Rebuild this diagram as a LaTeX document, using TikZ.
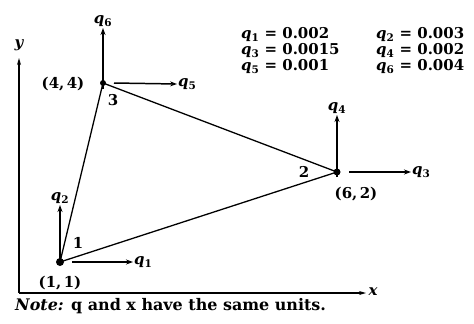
\documentclass[tikz,border=0pt]{standalone}
\usepackage{fontspec}
\setmainfont{DejaVu Serif}
\usepackage{tikz}
\usetikzlibrary{arrows.meta}

\newcommand{\dofq}[1]{\textit{q}\textsubscript{#1}}

\tikzset{
  dof/.style={-{Stealth[length=7pt,width=5pt]}, line width=1.5pt},
  axis/.style={-{Stealth[length=7pt,width=4pt]}, line width=1.2pt},
  edge/.style={line width=1.3pt},
  lbl/.style={inner sep=1pt, font=\bfseries\fontsize{15}{17}\selectfont}
}

\begin{document}
\begin{tikzpicture}[x=1bp, y=-1bp]
    \useasboundingbox (0,0) rectangle (474,323);

    % axes
    \coordinate (o) at (19,293);
    \coordinate (xend) at (366,293);
    \coordinate (yend) at (19,58);
    \draw[axis] (o) -- (xend);
    \draw[axis] (o) -- (yend);
    \node[lbl, font=\bfseries\itshape\fontsize{15}{17}\selectfont] (xlab) at (373,292) {x};
    \node[lbl, font=\bfseries\itshape\fontsize{15}{17}\selectfont] (ylab) at (19,45) {y};

    % nodes of the element
    \coordinate (n1) at (60,262);
    \coordinate (n2) at (337,172);
    \coordinate (n3) at (103,83);
    \draw[edge] (n1) -- (n2) -- (n3) -- cycle;
    \fill (n1) circle (4bp);
    \fill (n2) circle (3.5bp);
    \fill (n3) circle (3bp);

    \node[lbl] (c1) at (60,283) {(1,\,1)};
    \node[lbl] (c2) at (356,194) {(6,\,2)};
    \node[lbl] (c3) at (63,84) {(4,\,4)};
    \node[lbl] (k1) at (78,243) {1};
    \node[lbl] (k2) at (304,172) {2};
    \node[lbl] (k3) at (113,100) {3};

    % nodal displacements
    \coordinate (t1) at (133,262);
    \coordinate (t2) at (60,205);
    \coordinate (t3) at (411,172);
    \coordinate (t4) at (337,115);
    \coordinate (t5) at (177,84);
    \coordinate (t6) at (103,28);
    \draw[dof] ([xshift=12bp]n1) -- (t1);
    \draw[dof] ([yshift=-2bp]n1) -- (t2);
    \draw[dof] ([xshift=12bp]n2) -- (t3);
    \draw[dof] ([yshift=-5bp]n2) -- (t4);
    \draw[dof] ([xshift=11bp]n3) -- (t5);
    \draw[dof] ([yshift=-6bp]n3) -- (t6);
    \node[lbl, right] (q1) at (t1) {\dofq{1}};
    \node[lbl, above] (q2) at (t2) {\dofq{2}};
    \node[lbl, right] (q3) at (t3) {\dofq{3}};
    \node[lbl, above] (q4) at (t4) {\dofq{4}};
    \node[lbl, right] (q5) at (t5) {\dofq{5}};
    \node[lbl, above] (q6) at (t6) {\dofq{6}};

    % values
    \node[lbl, anchor=west] (v1) at (240,35) {\dofq{1} = 0.002};
    \node[lbl, anchor=west] (v3) at (240,51) {\dofq{3} = 0.0015};
    \node[lbl, anchor=west] (v5) at (240,67) {\dofq{5} = 0.001};
    \node[lbl, anchor=west] (v2) at (375,35) {\dofq{2} = 0.003};
    \node[lbl, anchor=west] (v4) at (375,51) {\dofq{4} = 0.002};
    \node[lbl, anchor=west] (v6) at (375,67) {\dofq{6} = 0.004};

    \node[lbl, font=\bfseries\fontsize{16}{18}\selectfont, anchor=west, inner sep=0pt] (note) at (15,306) {\textit{Note:} q and x have the same units.};
\end{tikzpicture}
\end{document}
